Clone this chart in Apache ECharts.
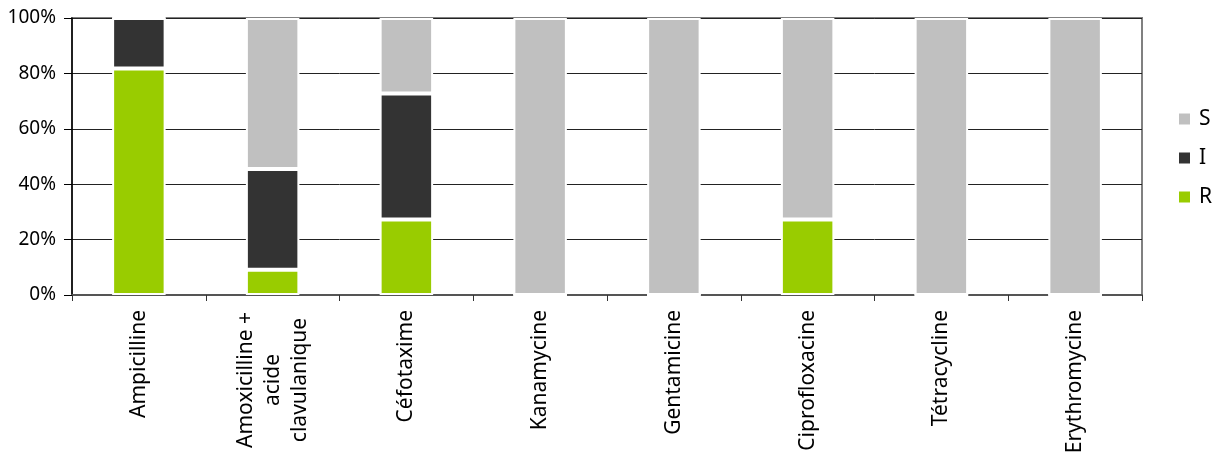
<!DOCTYPE html>
<html>
<head>
<meta charset="utf-8">
<script src="https://cdn.jsdelivr.net/npm/echarts@6/dist/echarts.min.js"></script>
<style>
  html, body { margin: 0; padding: 0; background: #fff; }
  #chart { width: 1217px; height: 453px; }
</style>
</head>
<body>
<div id="chart"></div>
<script>
// Antibiotics tested
const categories = ['Ampicilline', 'Amoxicilline +\nacide\nclavulanique', 'Céfotaxime', 'Kanamycine',
  'Gentamicine', 'Ciprofloxacine', 'Tétracycline', 'Erythromycine'];

// Share of isolates (%) per category: resistant, intermediate, susceptible
const resistant    = [81.8, 9.1, 27.3, 0, 0, 27.3, 0, 0];
const intermediate = [18.2, 36.4, 45.4, 0, 0, 0, 0, 0];
const susceptible  = [0, 54.5, 27.3, 100, 100, 72.7, 100, 100];

const yTicks = [0, 20, 40, 60, 80, 100];

const FONT = 'Noto Sans';

const chart = echarts.init(document.getElementById('chart'));

function barSeries(name, data, color) {
  return {
    name: name,
    type: 'bar',
    stack: 'total',
    data: data,
    barWidth: '40%',
    itemStyle: { color: color, borderColor: '#ffffff', borderWidth: 2 },
    emphasis: { disabled: true }
  };
}

chart.setOption({
  animation: false,
  textStyle: { fontFamily: FONT },
  grid: {
    left: 72, right: 75, top: 18, bottom: 158,
    outerBoundsMode: 'none',
    containLabel: false,
    show: true, borderColor: '#808080', borderWidth: 2, backgroundColor: 'transparent'
  },
  legend: {
    orient: 'vertical',
    left: 1172,
    top: 103,
    itemWidth: 13,
    itemHeight: 13,
    itemGap: 17,
    icon: 'rect',
    data: ['S', 'I', 'R'],
    textStyle: { fontFamily: FONT, fontSize: 21, lineHeight: 22, color: '#000', padding: [0, 0, 0, 3] }
  },
  xAxis: {
    type: 'category',
    data: categories,
    axisLine: { lineStyle: { color: '#555', width: 2 } },
    axisTick: { show: true, length: 6, lineStyle: { color: '#333' } },
    axisLabel: {
      interval: 0,
      rotate: 90,
      margin: 15,
      fontFamily: FONT,
      fontSize: 21,
      color: '#000',
      lineHeight: 27,
      formatter: function (v) {
        if (v.indexOf('\n') < 0) return v;
        return v.split('\n').map(function (s) { return '{c|' + s + '}'; }).join('\n');
      },
      rich: { c: { width: 140, align: 'center', fontFamily: FONT, fontSize: 21, lineHeight: 27, color: '#000' } }
    }
  },
  yAxis: {
    type: 'value',
    min: yTicks[0],
    max: yTicks[yTicks.length - 1],
    interval: yTicks[1] - yTicks[0],
    axisLine: { show: true, lineStyle: { color: '#000', width: 1.5 } },
    axisTick: { show: true, length: 8, lineStyle: { color: '#000' } },
    axisLabel: {
      formatter: '{value}%',
      fontFamily: FONT,
      fontSize: 19,
      color: '#000',
      margin: 16
    },
    splitLine: { lineStyle: { color: '#222', width: 1 } }
  },
  series: [
    barSeries('R', resistant, '#99cc00'),
    barSeries('I', intermediate, '#333333'),
    barSeries('S', susceptible, '#c0c0c0')
  ]
});
</script>
</body>
</html>
